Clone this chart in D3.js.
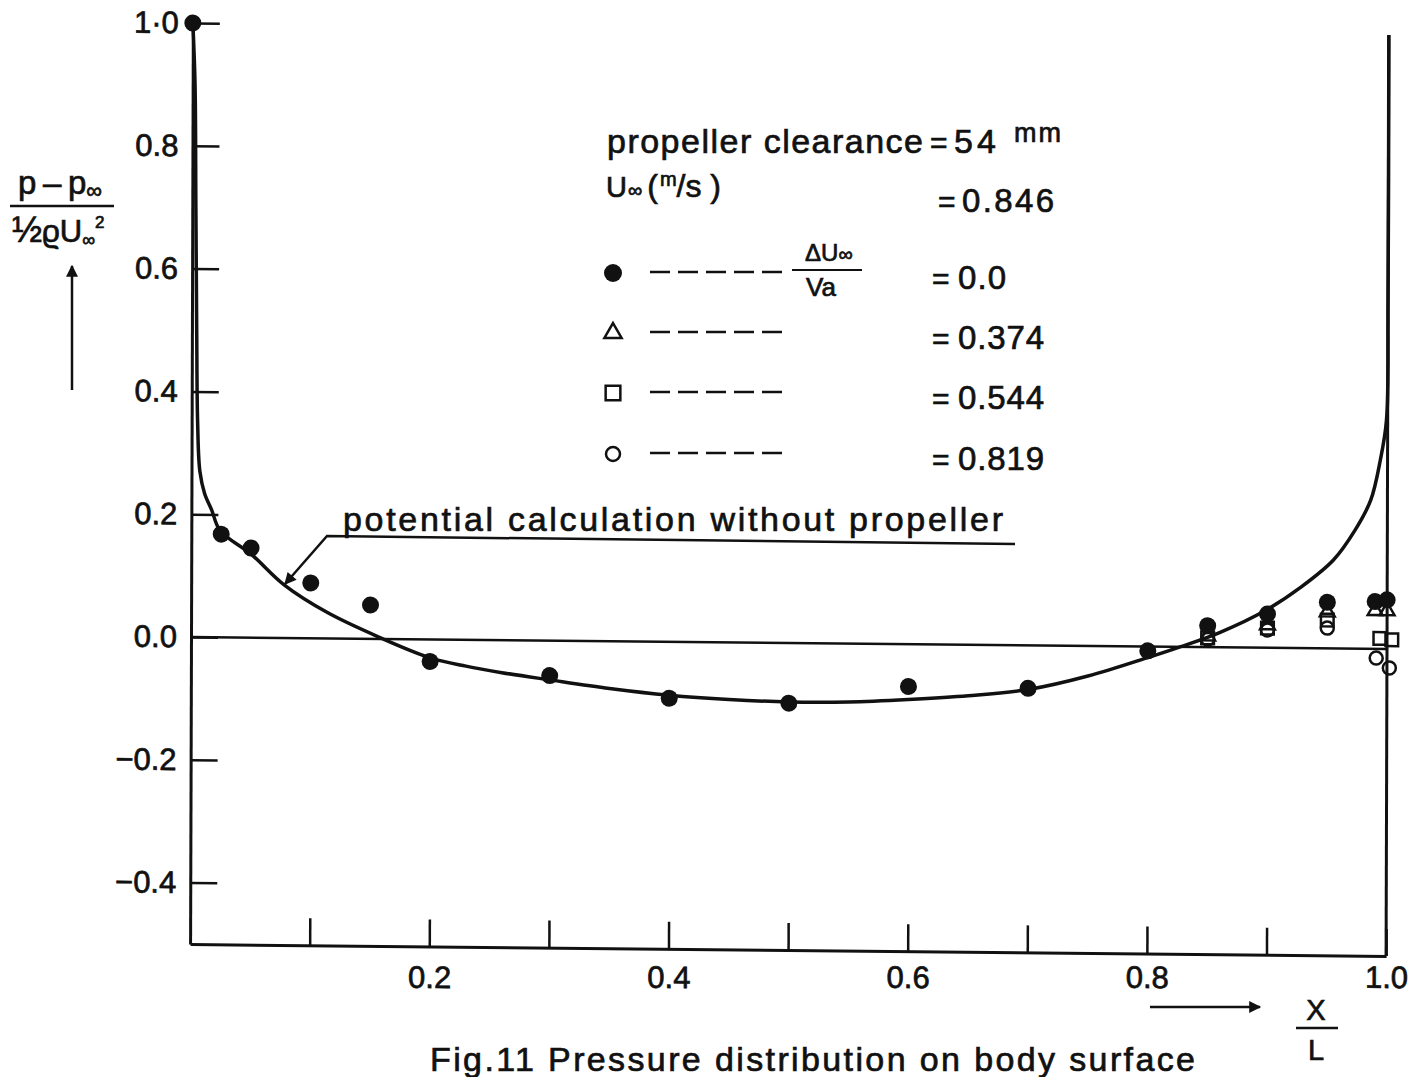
<!DOCTYPE html>
<html>
<head>
<meta charset="utf-8">
<script src="https://cdn.jsdelivr.net/npm/d3@7/dist/d3.min.js"></script>
<style>
  body { margin: 0; background: #fff; }
  svg text { font-family: 'Liberation Sans', 'DejaVu Sans', sans-serif; fill: #111; stroke: #111; stroke-width: 0.7px; }
</style>
</head>
<body>
<svg id="chart" width="1415" height="1077"></svg>
<script>
// measured points, dU/Va = 0.0 (filled dots)
const xDot = [0, 0.025, 0.05, 0.1, 0.15, 0.2, 0.3, 0.4, 0.5, 0.6, 0.7, 0.8, 0.85, 0.9, 0.95, 0.99, 1.0];
const yDot = [1.0, 0.168, 0.146, 0.090, 0.055, -0.036, -0.057, -0.092, -0.098, -0.069, -0.070, -0.007, 0.035, 0.055, 0.075, 0.077, 0.080];
// dU/Va = 0.374 (triangles)
const xTri = [0.85, 0.9, 0.95, 0.99, 1.0];
const yTri = [0.018, 0.037, 0.059, 0.062, 0.062];
// dU/Va = 0.544 (squares)
const xSqr = [0.85, 0.9, 0.95, 0.994, 1.004];
const ySqr = [0.015, 0.032, 0.046, 0.017, 0.015];
// dU/Va = 0.819 (open circles)
const xCir = [0.85, 0.9, 0.95, 0.991, 1.002];
const yCir = [0.013, 0.029, 0.033, -0.015, -0.031];
// potential calculation without propeller
const xCalc = [0, 0.002, 0.003, 0.004, 0.005, 0.007, 0.011, 0.017, 0.024, 0.05, 0.078, 0.114, 0.157, 0.2, 0.23, 0.26, 0.3, 0.35, 0.4, 0.45, 0.5, 0.55, 0.6, 0.65, 0.7, 0.75, 0.8, 0.827, 0.86, 0.899, 0.927, 0.955, 0.973, 0.986, 0.994, 0.999, 1.0, 1.0];
const yCalc = [1.0, 0.9, 0.7, 0.5, 0.35, 0.27, 0.234, 0.207, 0.174, 0.136, 0.086, 0.042, 0.003, -0.030, -0.043, -0.053, -0.064, -0.077, -0.087, -0.093, -0.096, -0.095, -0.090, -0.083, -0.072, -0.049, -0.018, 0.0, 0.024, 0.0615, 0.098, 0.144, 0.193, 0.242, 0.308, 0.373, 0.57, 1.0];

const xTicks = [0.1, 0.2, 0.3, 0.4, 0.5, 0.6, 0.7, 0.8, 0.9, 1.0];
const xTickLabels = ['', '0.2', '', '0.4', '', '0.6', '', '0.8', '', '1.0'];
const yTicks = [-0.4, -0.2, 0, 0.2, 0.4, 0.6, 0.8, 1.0];
const yTickLabels = ['\u22120.4', '\u22120.2', '0.0', '0.2', '0.4', '0.6', '0.8', '1\u00b70'];

const legendMarks = ['dot', 'tri', 'sqr', 'cir'];
const legendValues = ['0.0', '0.374', '0.544', '0.819'];

let svg = d3.select('#chart');
let x = d3.scaleLinear().domain([0, 1]).range([191, 1387]);
let y = d3.scaleLinear().domain([-0.5, 1]).range([944, 23]);
const skewY = 0.01;

// the scanned figure is slightly skewed, so the plot frame is too
let g = svg.append('g')
  .attr('transform', 'translate(191,637) matrix(1,' + skewY + ',-0.003,1,0,0) translate(-191,-637)');

let zip = (xs, ys) => xs.map((v, i) => ({ x: v, y: ys[i] }));

// axes
let yAxis = d3.axisLeft(y).tickValues(yTicks).tickFormat((d, i) => yTickLabels[i])
  .tickSizeInner(-27).tickSizeOuter(0).tickPadding(14);
let xAxis = d3.axisBottom(x).tickValues(xTicks).tickFormat((d, i) => xTickLabels[i])
  .tickSizeInner(-27).tickSizeOuter(0).tickPadding(22);

let ya = g.append('g').attr('transform', 'translate(' + x(0) + ',0)').call(yAxis);
let xa = g.append('g').attr('transform', 'translate(0,' + y(-0.5) + ')').call(xAxis);
[ya, xa].forEach(a => {
  a.attr('font-family', null).attr('font-size', 31);
  a.select('.domain').attr('stroke', '#111').attr('stroke-width', 3);
  a.selectAll('.tick line').attr('stroke', '#111').attr('stroke-width', 2.5);
  a.selectAll('.tick text').attr('fill', '#111');
});
// the x labels were lettered level, not along the skewed axis
xa.selectAll('.tick text').attr('y', d => 22 - skewY * (x(d) - x(0)));

// right border and zero line
g.append('line').attr('x1', x(1)).attr('x2', x(1)).attr('y1', y(-0.5)).attr('y2', y(1))
  .attr('stroke', '#111').attr('stroke-width', 3);
g.append('line').attr('x1', x(0)).attr('x2', x(1)).attr('y1', y(0)).attr('y2', y(0))
  .attr('stroke', '#111').attr('stroke-width', 2.5);

// calculated curve
let lineg = d3.line().x(d => x(d.x)).y(d => y(d.y)).curve(d3.curveCatmullRom.alpha(0.5));
g.append('path').attr('d', lineg(zip(xCalc, yCalc)))
  .attr('fill', 'none').attr('stroke', '#111').attr('stroke-width', 3.5);

// markers
let sym = (type, size) => d3.symbol().type(type).size(size)();
function marker(sel, kind, big) {
  let s = big ? 1.35 : 1;
  if (kind === 'dot') sel.append('circle').attr('r', big ? 9 : 8.5).attr('fill', '#111');
  if (kind === 'tri') sel.append('path').attr('d', sym(d3.symbolTriangle, 95 * s))
    .attr('fill', 'none').attr('stroke', '#111').attr('stroke-width', 2.5);
  if (kind === 'sqr') sel.append('path').attr('d', sym(d3.symbolSquare, 160 * s))
    .attr('fill', 'none').attr('stroke', '#111').attr('stroke-width', 2.5);
  if (kind === 'cir') sel.append('circle').attr('r', big ? 7 : 6.5)
    .attr('fill', 'none').attr('stroke', '#111').attr('stroke-width', 2.5);
}
[['cir', xCir, yCir], ['sqr', xSqr, ySqr], ['tri', xTri, yTri], ['dot', xDot, yDot]].forEach(([k, xs, ys]) => {
  g.append('g').selectAll('g').data(zip(xs, ys)).enter().append('g')
    .attr('transform', d => 'translate(' + x(d.x) + ',' + y(d.y) + ')')
    .each(function () { marker(d3.select(this), k, false); });
});

// text helper
function txt(px, py, s, size, opt) {
  let t = svg.append('text').attr('x', px).attr('y', py).attr('font-size', size).text(s);
  if (opt && opt.len) t.attr('textLength', opt.len).attr('lengthAdjust', 'spacing');
  if (opt && opt.anchor) t.attr('text-anchor', opt.anchor);
  if (opt && opt.ls) t.attr('letter-spacing', opt.ls);
  return t;
}

// arrow heads
let defs = svg.append('defs');
defs.append('marker').attr('id', 'head').attr('viewBox', '0 0 10 10').attr('refX', 9).attr('refY', 5)
  .attr('markerWidth', 16).attr('markerHeight', 12).attr('markerUnits', 'userSpaceOnUse').attr('orient', 'auto')
  .append('path').attr('d', 'M0,0L10,5L0,10Z').attr('fill', '#111');

// legend block
txt(607, 153, 'propeller clearance', 34, { len: 316 });
txt(930, 153, '=', 30);
txt(954, 153, '54', 34, { ls: 4 });
txt(1014, 142, 'mm', 27, { ls: 2 });

let u = txt(606, 197, 'U', 29);
u.append('tspan').attr('font-size', 20).attr('dx', 1).text('\u221e');
u.append('tspan').attr('font-size', 32).attr('dx', 5).text('(');
u.append('tspan').attr('font-size', 20).attr('dx', 2).attr('dy', -11).text('m');
u.append('tspan').attr('font-size', 32).attr('dy', 11).text('/s )');

txt(938, 212, '=', 30);
txt(962, 212, '0.846', 33, { len: 92 });

let rowY = [273, 333, 393, 454];
legendMarks.forEach((k, i) => {
  let m = svg.append('g').attr('transform', 'translate(613,' + rowY[i] + ')');
  marker(m, k, true);
  svg.append('line').attr('x1', 650).attr('x2', 782).attr('y1', rowY[i] - 1).attr('y2', rowY[i] - 1)
    .attr('stroke', '#111').attr('stroke-width', 2.5).attr('stroke-dasharray', '20,8');
  txt(932, rowY[i] + 16, '=', 30);
  txt(958, rowY[i] + 16, legendValues[i], 33, { len: legendValues[i].length > 3 ? 86 : 48 });
});
let du = txt(805, 261, '\u0394U', 24);
du.append('tspan').attr('font-size', 20).text('\u221e');
svg.append('line').attr('x1', 792).attr('x2', 862).attr('y1', 270).attr('y2', 270)
  .attr('stroke', '#111').attr('stroke-width', 2);
txt(806, 296, 'Va', 26);

// label of the calculated curve
txt(343, 531, 'potential calculation without propeller', 34, { len: 660 });
svg.append('path').attr('d', 'M1015,544L327,536L285,584').attr('fill', 'none')
  .attr('stroke', '#111').attr('stroke-width', 2.5).attr('marker-end', 'url(#head)');

// y axis title
let num = txt(18, 194, 'p\u2009\u2013\u2009p', 33);
num.append('tspan').attr('font-size', 22).attr('dy', 4).text('\u221e');
svg.append('line').attr('x1', 10).attr('x2', 114).attr('y1', 206).attr('y2', 206)
  .attr('stroke', '#111').attr('stroke-width', 2.5);
let den = txt(12, 242, '\u00bd', 36);
den.append('tspan').attr('font-size', 31).text('\u03f1U');
den.append('tspan').attr('font-size', 18).attr('dy', 4).text('\u221e');
den.append('tspan').attr('font-size', 17).attr('dy', -18).text('2');
svg.append('line').attr('x1', 72).attr('x2', 72).attr('y1', 390).attr('y2', 266)
  .attr('stroke', '#111').attr('stroke-width', 2.5).attr('marker-end', 'url(#head)');

// x axis title
svg.append('line').attr('x1', 1150).attr('x2', 1260).attr('y1', 1007).attr('y2', 1007)
  .attr('stroke', '#111').attr('stroke-width', 2.5).attr('marker-end', 'url(#head)');
txt(1316, 1020, 'X', 29, { anchor: 'middle' });
svg.append('line').attr('x1', 1296).attr('x2', 1338).attr('y1', 1028).attr('y2', 1028)
  .attr('stroke', '#111').attr('stroke-width', 2.5);
txt(1316, 1060, 'L', 29, { anchor: 'middle' });

// caption
txt(430, 1071, 'Fig.11  Pressure distribution on body surface', 34, { len: 765 });
</script>
</body>
</html>
